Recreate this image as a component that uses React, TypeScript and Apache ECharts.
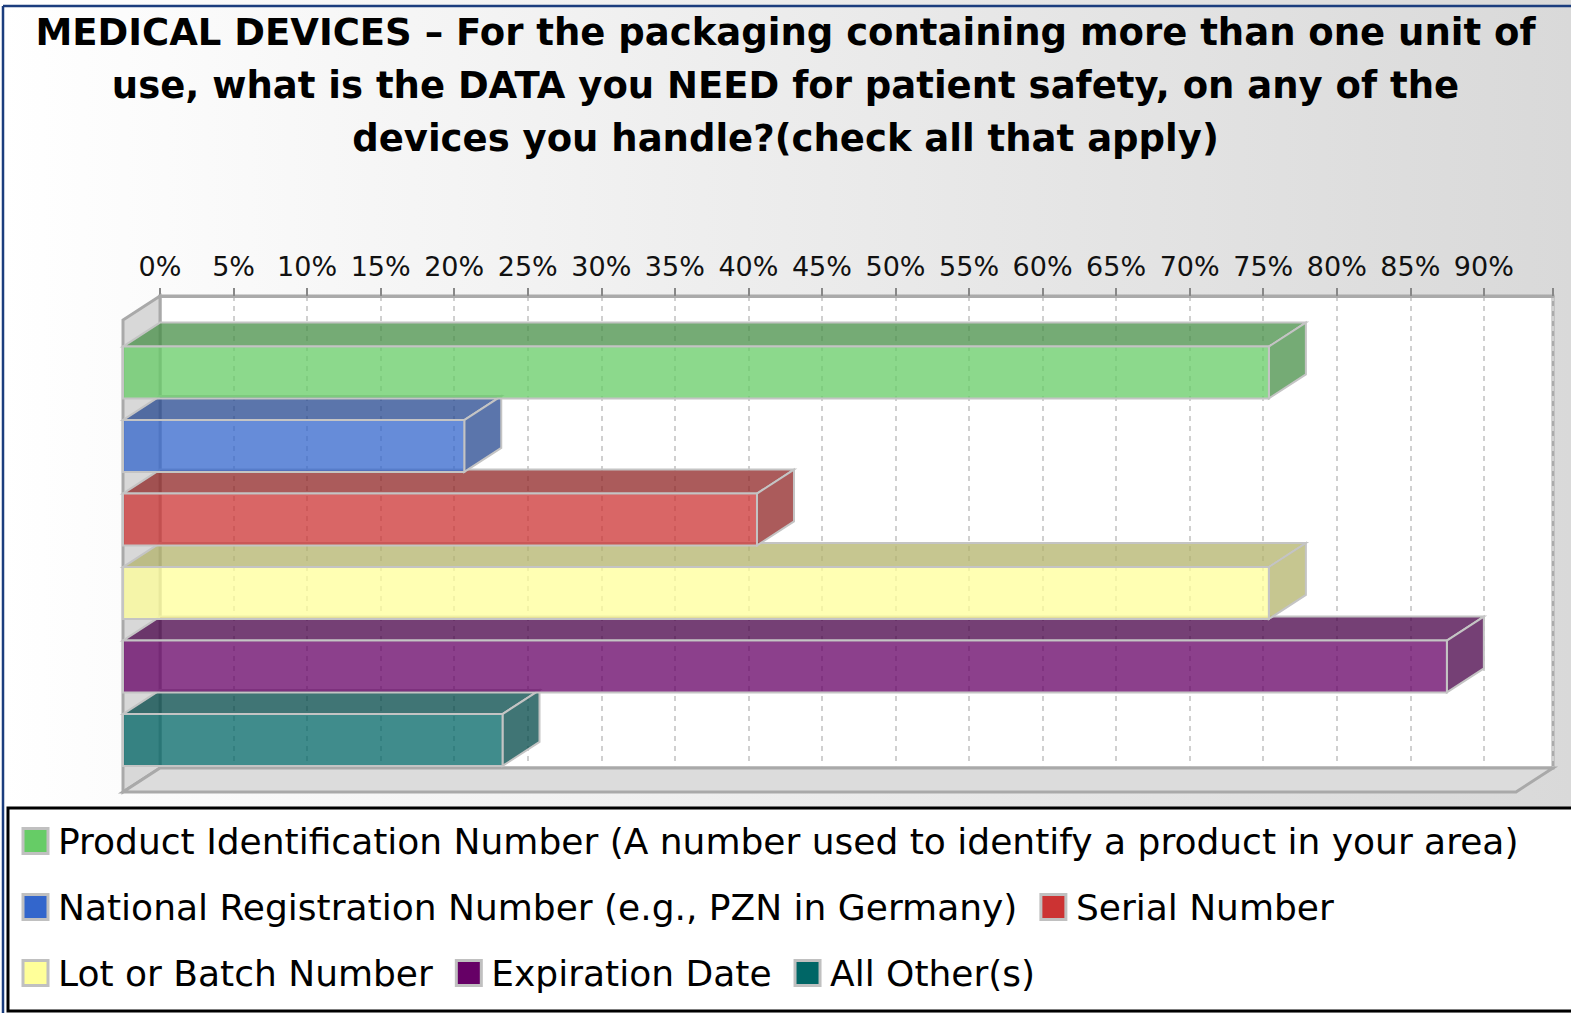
import React, { useEffect, useRef } from "react";
import * as echarts from "echarts";

const TITLE_LINES = [
  "MEDICAL DEVICES – For the packaging containing more than one unit of",
  "use, what is the DATA you NEED for patient safety, on any of the",
  "devices you handle?(check all that apply)",
];

const categories = [
  "Product Identification Number (A number used to identify a product in your area)",
  "National Registration Number (e.g., PZN in Germany)",
  "Serial Number",
  "Lot or Batch Number",
  "Expiration Date",
  "All Other(s)",
];

const percentValues = [77.9, 23.2, 43.1, 77.9, 90.0, 25.8];

const seriesColors = ["#66cc66", "#3366cc", "#cc3333", "#ffff99", "#660066", "#006666"];

const TICK_STEP = 5;
const AXIS_MAX = 94.7;

// 3D look
const DX = 37;
const DY = 24;
const BAR_FRAC = 0.705;
const ALPHA = 0.75;

function hexToRgb(hex: string) {
  const h = hex.replace("#", "");
  return [parseInt(h.slice(0, 2), 16), parseInt(h.slice(2, 4), 16), parseInt(h.slice(4, 6), 16)];
}
function rgba(hex: string, k: number, a: number) {
  const [r, g, b] = hexToRgb(hex);
  return `rgba(${Math.round(r * k)},${Math.round(g * k)},${Math.round(b * k)},${a})`;
}

export default function App() {
  const ref = useRef<HTMLDivElement>(null);

  useEffect(() => {
    if (!ref.current) return;
    const chart = echarts.init(ref.current, undefined, { renderer: "svg" });

    const barSeries = categories.map((name, i) => ({
      type: "custom",
      name,
      coordinateSystem: "cartesian2d",
      z: 10 + (categories.length - i),
      silent: true,
      clip: false,
      itemStyle: { color: seriesColors[i] },
      encode: { x: 0, y: 1 },
      data: [[percentValues[i], i]],
      renderItem: (params: any, api: any) => {
        const v = api.value(0);
        const idx = api.value(1);
        const p0 = api.coord([0, idx]);
        const p1 = api.coord([v, idx]);
        const h = Math.abs(api.size([0, BAR_FRAC])[1]);
        const top = p0[1] - h / 2;
        const x0 = p0[0];
        const x1 = p1[0];
        const base = seriesColors[i];
        const stroke = "#c4c4c4";
        return {
          type: "group",
          children: [
            {
              type: "polygon",
              shape: { points: [[x0, top], [x1, top], [x1 - DX, top + DY], [x0 - DX, top + DY]] },
              style: { fill: rgba(base, 0.7, ALPHA), stroke, lineWidth: 2 },
            },
            {
              type: "polygon",
              shape: { points: [[x1, top], [x1, top + h], [x1 - DX, top + h + DY], [x1 - DX, top + DY]] },
              style: { fill: rgba(base, 0.7, ALPHA), stroke, lineWidth: 2 },
            },
            {
              type: "rect",
              shape: { x: x0 - DX, y: top + DY, width: x1 - x0, height: h },
              style: { fill: rgba(base, 1, ALPHA), stroke, lineWidth: 2 },
            },
          ],
        };
      },
    }));

    const wallSeries = {
      type: "custom",
      name: "walls",
      coordinateSystem: "cartesian2d",
      z: 5,
      silent: true,
      clip: false,
      encode: { x: 0, y: 1 },
      data: [[0, 0]],
      renderItem: (params: any) => {
        const cs = params.coordSys;
        const x = cs.x, y = cs.y, w = cs.width, h = cs.height;
        const st = { fill: "#d8d8d8", stroke: "#a9a9a9", lineWidth: 3 };
        return {
          type: "group",
          children: [
            {
              type: "polygon",
              shape: { points: [[x, y], [x, y + h], [x - DX, y + h + DY], [x - DX, y + DY]] },
              style: st,
            },
            {
              type: "polygon",
              shape: { points: [[x, y + h], [x + w, y + h], [x + w - DX, y + h + DY], [x - DX, y + h + DY]] },
              style: { ...st, fill: "#dcdcdc" },
            },
          ],
        };
      },
    };

    const option: any = {
      animation: false,
      backgroundColor: {
        type: "linear",
        x: 0, y: 0, x2: 1, y2: 0,
        colorStops: [
          { offset: 0, color: "#ffffff" },
          { offset: 1, color: "#d9d9d9" },
        ],
      },
      title: {
        text: TITLE_LINES.join("\n"),
        left: "center",
        top: 6,
        padding: [0, 9, 0, 0],
        textStyle: {
          fontFamily: "DejaVu Sans",
          fontWeight: "bold",
          fontSize: 37,
          lineHeight: 53,
          color: "#000",
        },
      },
      grid: {
        left: 160,
        right: 18,
        top: 296,
        bottom: 245,
        show: true,
        backgroundColor: "#ffffff",
        borderColor: "#aaaaaa",
        borderWidth: 3,
      },
      xAxis: {
        type: "value",
        position: "top",
        min: 0,
        max: AXIS_MAX,
        interval: TICK_STEP,
        axisLine: { show: true, onZero: false, lineStyle: { color: "#aaaaaa", width: 3 } },
        axisTick: { show: true, length: 8, lineStyle: { color: "#888888", width: 2 } },
        axisLabel: {
          margin: 16,
          fontFamily: "DejaVu Sans",
          fontSize: 27,
          lineHeight: 27,
          color: "#111",
          formatter: (v: number) => (Math.abs(v % TICK_STEP) < 1e-6 ? `${Math.round(v)}%` : ""),
        },
        splitLine: { show: true, lineStyle: { color: "#d0d0d0", width: 2, type: [5, 5] } },
      },
      yAxis: {
        type: "value",
        inverse: true,
        min: -0.714,
        max: 5.707,
        show: false,
        splitLine: { show: false },
      },
      legend: {
        data: categories,
        orient: "horizontal",
        left: 8,
        top: 808,
        width: 1600,
        padding: [11, 80, 16, 13.5],
        itemWidth: 25,
        itemHeight: 25,
        itemGap: 22,
        icon: "rect",
        selectedMode: false,
        backgroundColor: "#ffffff",
        borderColor: "#000000",
        borderWidth: 3,
        itemStyle: { borderColor: "#c0c0c0", borderWidth: 3 },
        textStyle: {
          fontFamily: "DejaVu Sans",
          fontSize: 36,
          lineHeight: 44,
          color: "#000",
          padding: [0, 0, 0, 5],
        },
      },
      graphic: [
        {
          type: "line",
          z: 100,
          shape: { x1: 3, y1: 6, x2: 1571, y2: 6 },
          style: { stroke: "#1b3d7e", lineWidth: 2.5 },
        },
        {
          type: "line",
          z: 100,
          shape: { x1: 3, y1: 6, x2: 3, y2: 1013 },
          style: { stroke: "#1b3d7e", lineWidth: 2.5 },
        },
      ],
      series: [wallSeries, ...barSeries],
    };

    chart.setOption(option);
    return () => chart.dispose();
  }, []);

  return (
    <div
      ref={ref}
      style={{ position: "fixed", left: 0, top: 0, width: 1571, height: 1013 }}
    />
  );
}
